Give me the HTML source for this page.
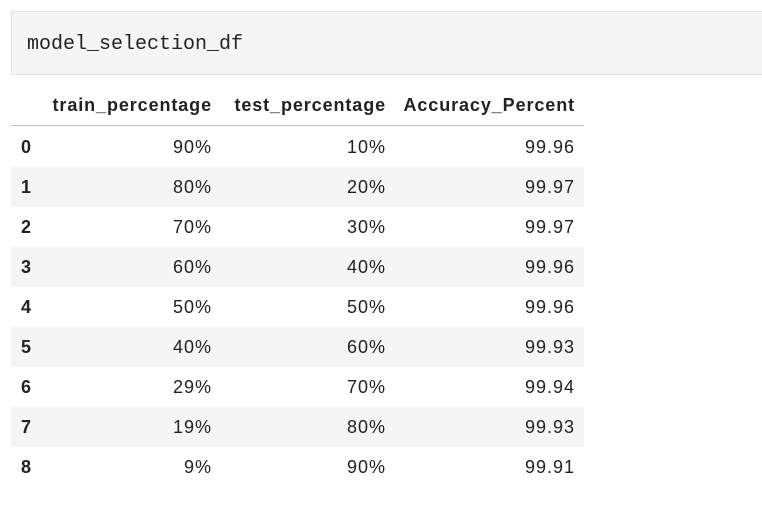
<!DOCTYPE html>
<html><head><meta charset="utf-8"><style>
body{margin:0;width:762px;height:512px;background:#fff;position:relative;overflow:hidden;font-family:"Liberation Sans",Arial,sans-serif;color:#222}
#code{position:absolute;left:11px;top:11px;width:760px;height:64px;background:#f5f5f5;border:1px solid #e0e0e0;box-sizing:border-box}
#code span{position:absolute;left:15px;top:21px;font-family:"Liberation Mono",monospace;font-size:20px;color:#222}
.row{position:absolute;left:11px;width:573px;height:40px}
.c{position:absolute;font-size:18px;letter-spacing:1px;line-height:40px;top:0;text-align:right;white-space:nowrap}
.h{font-weight:bold;letter-spacing:0.9px}
#hdr{top:85px;border-bottom:1px solid #bdbdbd}
</style></head><body>
<div id="code"><span>model_selection_df</span></div>
<div class="row" id="hdr">
 <div class="c h" style="left:0;width:201px">train_percentage</div>
 <div class="c h" style="left:200px;width:175px">test_percentage</div>
 <div class="c h" style="left:374px;width:190px">Accuracy_Percent</div>
</div>
<div id="rows"></div>
<script>
const trainPct=["90%","80%","70%","60%","50%","40%","29%","19%","9%"];
const testPct=["10%","20%","30%","40%","50%","60%","70%","80%","90%"];
const accuracy=["99.96","99.97","99.97","99.96","99.96","99.93","99.94","99.93","99.91"];
const host=document.getElementById('rows');
for(let i=0;i<trainPct.length;i++){
 const r=document.createElement('div');
 r.className='row';
 r.style.top=(127+40*i)+'px';
 if(i%2===1) r.style.background='#f5f5f5';
 
 
 const cells=[[String(i),'left:10px;text-align:left;font-weight:bold;width:30px','row-index'],
  [trainPct[i],'left:0;width:201px','train-cell'],
  [testPct[i],'left:200px;width:175px','test-cell'],
  [accuracy[i],'left:374px;width:190px','accuracy-cell']];
 for(const [t,s,n] of cells){
  const d=document.createElement('div');
  d.className='c';d.style.cssText=s;d.textContent=t;
  
  
  r.appendChild(d);
 }
 host.appendChild(r);
}
</script>
</body></html>
